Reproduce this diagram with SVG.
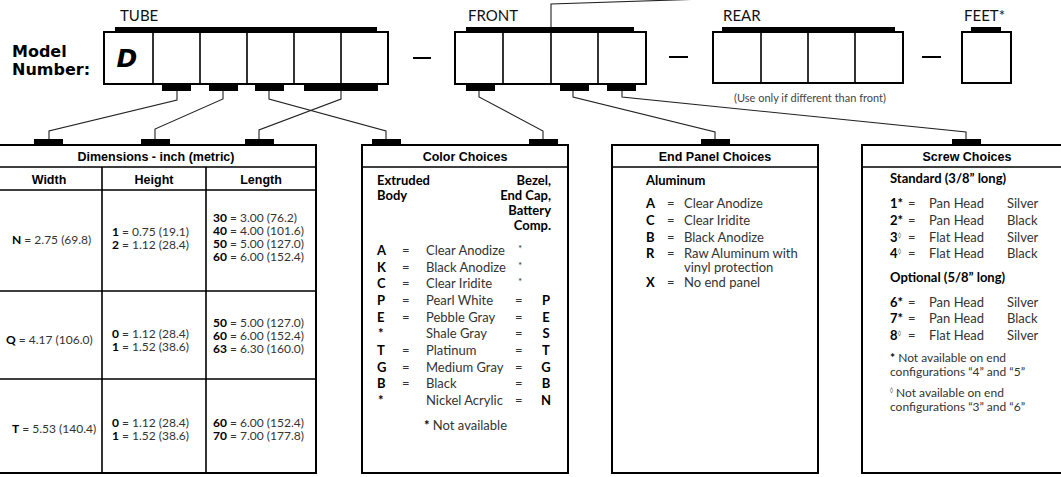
<svg xmlns="http://www.w3.org/2000/svg" width="1061" height="477" viewBox="0 0 1061 477">
<style>
.box{fill:#fff;stroke:#000;stroke-width:2}
.ln{fill:none;stroke:#000;stroke-width:1.6}
.bar{fill:#000}
.conn{fill:none;stroke:#222;stroke-width:1.1}
.lbl{font-family:Lato,"Open Sans",sans-serif;font-size:15px;fill:#111}
.hd{font-family:"Liberation Sans",Arial,sans-serif;font-weight:bold;font-size:12.5px;text-anchor:middle;fill:#000}
.t{font-family:Lato,"Open Sans",sans-serif;font-size:13px;fill:#333}
.d{font-family:Lato,"Open Sans",sans-serif;font-size:12px;fill:#333}
.fn{font-family:Lato,"Open Sans",sans-serif;font-size:12px;fill:#333}
.b{font-weight:bold;fill:#000}
.sm{font-family:Lato,"Open Sans",sans-serif;font-size:11px;fill:#444}
.sup{font-family:"DejaVu Sans",sans-serif;font-size:6px;fill:#000}
</style>
<defs>
<rect id="cbar" width="29" height="6" class="bar"/>
</defs>

<g id="model-label">
<text x="12" y="57" font-family="DejaVu Sans,sans-serif" font-weight="bold" font-size="16">Model</text>
<text x="12" y="75" font-family="DejaVu Sans,sans-serif" font-weight="bold" font-size="16">Number:</text>
</g>

<g id="tube">
<text class="lbl" x="120" y="21">TUBE</text>
<rect class="box" x="104" y="32" width="284" height="52"/>
<path class="ln" d="M153,32V84M200,32V84M247,32V84M294,32V84M341,32V84"/>
<rect class="bar" x="115" y="27" width="262" height="6"/>
<rect class="bar" x="162" y="84" width="29" height="7"/>
<rect class="bar" x="209" y="84" width="29" height="7"/>
<rect class="bar" x="255" y="84" width="29" height="7"/>
<rect class="bar" x="304" y="84" width="74" height="7"/>
<text x="127" y="67" font-family="DejaVu Sans,sans-serif" font-weight="bold" font-style="italic" font-size="25" text-anchor="middle">D</text>
</g>

<g id="dashes">
<path d="M413,58H431M669,57H688M922,57H941" stroke="#000" stroke-width="2"/>
</g>

<g id="front">
<text class="lbl" x="468" y="21">FRONT</text>
<rect class="box" x="455" y="32" width="191" height="52"/>
<path class="ln" d="M503,32V84M551,32V84M598,32V84"/>
<rect class="bar" x="466" y="27" width="168" height="6"/>
<rect class="bar" x="466" y="84" width="29" height="7"/>
<rect class="bar" x="560" y="84" width="29" height="7"/>
<rect class="bar" x="607" y="84" width="29" height="7"/>
</g>

<g id="rear">
<text class="lbl" x="723" y="21">REAR</text>
<rect class="box" x="713" y="32" width="190" height="51"/>
<path class="ln" d="M761,32V83M808,32V83M855,32V83"/>
<rect class="bar" x="722" y="27" width="173" height="6"/>
<text class="sm" x="810" y="102" text-anchor="middle">(Use only if different than front)</text>
</g>

<g id="feet">
<text class="lbl" x="964" y="21">FEET*</text>
<rect class="box" x="962" y="32" width="49" height="51"/>
<rect class="bar" x="971" y="27" width="30" height="6"/>
</g>

<g id="connectors">
<path class="conn" d="M177,91V100L49,131V139"/>
<path class="conn" d="M223,91V99L155,129V139"/>
<path class="conn" d="M269,91V99L386,131V139"/>
<path class="conn" d="M341,91V99L259,130V139"/>
<path class="conn" d="M479,91V97L543,131V139"/>
<path class="conn" d="M573,91V97L715,132V139"/>
<path class="conn" d="M622,91V97L966,132V139"/>
<path class="conn" d="M551,27V4L705,-1"/>
</g>

<g id="dimensions">
<rect class="box" x="-5" y="145" width="321" height="328"/>
<path class="ln" d="M-5,167H316M-5,190H316M-5,291H316M-5,379H316M102,167V473M206,167V473"/>
<use href="#cbar" x="34" y="139"/>
<use href="#cbar" x="141" y="139"/>
<use href="#cbar" x="245" y="139"/>
<text class="hd" x="156" y="161">Dimensions - inch (metric)</text>
<text class="hd" x="49" y="184">Width</text>
<text class="hd" x="154" y="184">Height</text>
<text class="hd" x="261" y="184">Length</text>
<text class="d" x="12" y="244"><tspan class="b">N</tspan> = 2.75 (69.8)</text>
<text class="d" x="112" y="236"><tspan class="b">1</tspan> = 0.75 (19.1)</text>
<text class="d" x="112" y="249"><tspan class="b">2</tspan> = 1.12 (28.4)</text>
<text class="d" x="213" y="222"><tspan class="b">30</tspan> = 3.00 (76.2)</text>
<text class="d" x="213" y="235"><tspan class="b">40</tspan> = 4.00 (101.6)</text>
<text class="d" x="213" y="248"><tspan class="b">50</tspan> = 5.00 (127.0)</text>
<text class="d" x="213" y="261"><tspan class="b">60</tspan> = 6.00 (152.4)</text>
<text class="d" x="6" y="344"><tspan class="b">Q</tspan> = 4.17 (106.0)</text>
<text class="d" x="112" y="338"><tspan class="b">0</tspan> = 1.12 (28.4)</text>
<text class="d" x="112" y="351"><tspan class="b">1</tspan> = 1.52 (38.6)</text>
<text class="d" x="213" y="327"><tspan class="b">50</tspan> = 5.00 (127.0)</text>
<text class="d" x="213" y="340"><tspan class="b">60</tspan> = 6.00 (152.4)</text>
<text class="d" x="213" y="353"><tspan class="b">63</tspan> = 6.30 (160.0)</text>
<text class="d" x="12" y="433"><tspan class="b">T</tspan> = 5.53 (140.4)</text>
<text class="d" x="112" y="427"><tspan class="b">0</tspan> = 1.12 (28.4)</text>
<text class="d" x="112" y="440"><tspan class="b">1</tspan> = 1.52 (38.6)</text>
<text class="d" x="213" y="427"><tspan class="b">60</tspan> = 6.00 (152.4)</text>
<text class="d" x="213" y="440"><tspan class="b">70</tspan> = 7.00 (177.8)</text>
</g>

<g id="colors">
<rect class="box" x="362" y="145" width="206" height="328"/>
<path class="ln" d="M362,167H568"/>
<use href="#cbar" x="372" y="139"/>
<use href="#cbar" x="529" y="139"/>
<text class="hd" x="465" y="161">Color Choices</text>
<text class="t b" x="377" y="185">Extruded</text>
<text class="t b" x="377" y="200">Body</text>
<g class="t b" text-anchor="end">
<text x="551" y="185">Bezel,</text>
<text x="551" y="200">End Cap,</text>
<text x="551" y="215">Battery</text>
<text x="551" y="230">Comp.</text>
</g>
<g class="t">
<text x="377" y="255" class="b">A</text><text x="402" y="255">=</text><text x="426" y="255">Clear Anodize</text><text x="518" y="252" font-size="10">*</text>
<text x="377" y="271.5" class="b">K</text><text x="402" y="271.5">=</text><text x="426" y="271.5">Black Anodize</text><text x="518" y="268.5" font-size="10">*</text>
<text x="377" y="288" class="b">C</text><text x="402" y="288">=</text><text x="426" y="288">Clear Iridite</text><text x="518" y="285" font-size="10">*</text>
<text x="377" y="305" class="b">P</text><text x="402" y="305">=</text><text x="426" y="305">Pearl White</text><text x="515" y="305">=</text><text x="546" y="305" class="b" text-anchor="middle">P</text>
<text x="377" y="321.5" class="b">E</text><text x="402" y="321.5">=</text><text x="426" y="321.5">Pebble Gray</text><text x="515" y="321.5">=</text><text x="546" y="321.5" class="b" text-anchor="middle">E</text>
<text x="378" y="338" class="b">*</text><text x="426" y="338">Shale Gray</text><text x="515" y="338">=</text><text x="546" y="338" class="b" text-anchor="middle">S</text>
<text x="377" y="355" class="b">T</text><text x="402" y="355">=</text><text x="426" y="355">Platinum</text><text x="515" y="355">=</text><text x="546" y="355" class="b" text-anchor="middle">T</text>
<text x="377" y="371.5" class="b">G</text><text x="402" y="371.5">=</text><text x="426" y="371.5">Medium Gray</text><text x="515" y="371.5">=</text><text x="546" y="371.5" class="b" text-anchor="middle">G</text>
<text x="377" y="388" class="b">B</text><text x="402" y="388">=</text><text x="426" y="388">Black</text><text x="515" y="388">=</text><text x="546" y="388" class="b" text-anchor="middle">B</text>
<text x="378" y="405" class="b">*</text><text x="426" y="405">Nickel Acrylic</text><text x="515" y="405">=</text><text x="546" y="405" class="b" text-anchor="middle">N</text>
<text x="424" y="430"><tspan class="b">*</tspan> Not available</text>
</g>
</g>

<g id="endpanel">
<rect class="box" x="612" y="145" width="206" height="328"/>
<path class="ln" d="M612,167H818"/>
<use href="#cbar" x="701" y="139"/>
<text class="hd" x="715" y="161">End Panel Choices</text>
<g class="t">
<text x="646" y="185" class="b">Aluminum</text>
<text x="646" y="208" class="b">A</text><text x="667" y="208">=</text><text x="684" y="208">Clear Anodize</text>
<text x="646" y="225" class="b">C</text><text x="667" y="225">=</text><text x="684" y="225">Clear Iridite</text>
<text x="646" y="242" class="b">B</text><text x="667" y="242">=</text><text x="684" y="242">Black Anodize</text>
<text x="646" y="258" class="b">R</text><text x="667" y="258">=</text><text x="684" y="258">Raw Aluminum with</text>
<text x="684" y="272">vinyl protection</text>
<text x="646" y="287" class="b">X</text><text x="667" y="287">=</text><text x="684" y="287">No end panel</text>
</g>
</g>

<g id="screws">
<rect class="box" x="862" y="145" width="210" height="328"/>
<path class="ln" d="M862,167H1072"/>
<use href="#cbar" x="952" y="139"/>
<text class="hd" x="967" y="161">Screw Choices</text>
<g class="t">
<text x="890" y="183" class="b">Standard (3/8” long)</text>
<text x="890" y="208" class="b">1*</text><text x="908" y="208">=</text><text x="929" y="208">Pan Head</text><text x="1007" y="208">Silver</text>
<text x="890" y="225" class="b">2*</text><text x="908" y="225">=</text><text x="929" y="225">Pan Head</text><text x="1007" y="225">Black</text>
<text x="890" y="242" class="b">3</text><text x="908" y="242">=</text><text x="929" y="242">Flat Head</text><text x="1007" y="242">Silver</text>
<text x="890" y="258" class="b">4</text><text x="908" y="258">=</text><text x="929" y="258">Flat Head</text><text x="1007" y="258">Black</text>
<text x="890" y="282" class="b">Optional (5/8” long)</text>
<text x="890" y="307" class="b">6*</text><text x="908" y="307">=</text><text x="929" y="307">Pan Head</text><text x="1007" y="307">Silver</text>
<text x="890" y="323" class="b">7*</text><text x="908" y="323">=</text><text x="929" y="323">Pan Head</text><text x="1007" y="323">Black</text>
<text x="890" y="340" class="b">8</text><text x="908" y="340">=</text><text x="929" y="340">Flat Head</text><text x="1007" y="340">Silver</text>
</g>
<g class="fn">
<text x="890" y="362"><tspan class="b">*</tspan> Not available on end</text>
<text x="890" y="376">configurations “4” and “5”</text>
<text x="896" y="397">Not available on end</text>
<text x="890" y="411">configurations “3” and “6”</text>
</g>
<text class="sup" x="898" y="237">◊</text>
<text class="sup" x="898" y="253">◊</text>
<text class="sup" x="898" y="335">◊</text>
<text class="sup" x="890" y="392">◊</text>
</g>
</svg>
